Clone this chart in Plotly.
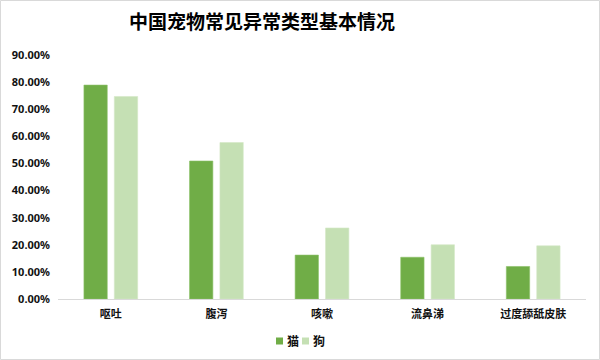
import plotly.graph_objects as go

categories = ["呕吐", "腹泻", "咳嗽", "流鼻涕", "过度舔舐皮肤"]
cat_values = [0.789, 0.509, 0.162, 0.154, 0.120]
dog_values = [0.747, 0.577, 0.262, 0.200, 0.196]
y_ticks = [0, 0.1, 0.2, 0.3, 0.4, 0.5, 0.6, 0.7, 0.8, 0.9]
series_names = ["猫", "狗"]
series_colors = ["#70AD47", "#C5E0B4"]

FONT = "Noto Sans, Noto Sans CJK SC, sans-serif"

fig = go.Figure()
fig.add_trace(go.Bar(name=series_names[0], x=categories, y=cat_values, showlegend=False,
                     marker=dict(color=series_colors[0], line=dict(color="#8cc168", width=0.6))))
fig.add_trace(go.Bar(name=series_names[1], x=categories, y=dog_values, showlegend=False,
                     marker=dict(color=series_colors[1], line=dict(color="#d3e8c6", width=0.6))))

L, R, T, B = 58, 14, 55, 61
W, H = 600, 360
pw, ph = W - L - R, H - T - B

def px_x(x):
    return (x - L) / pw

def px_y(y):
    return (H - B - y) / ph

shapes = [dict(type="rect", xref="paper", yref="paper",
               x0=px_x(0.5), x1=px_x(W - 0.5), y0=px_y(H - 0.5), y1=px_y(0.5),
               line=dict(color="#d9d9d9", width=1), layer="below")]
annotations = []
leg_x = [276, 302]
for name, col, lx in zip(series_names, series_colors, leg_x):
    shapes.append(dict(type="rect", xref="paper", yref="paper",
                       x0=px_x(lx), x1=px_x(lx + 7), y0=px_y(344.5), y1=px_y(337.5),
                       fillcolor=col, line=dict(width=0)))
    annotations.append(dict(text=name, xref="paper", yref="paper", x=px_x(lx + 9), y=px_y(341),
                            xanchor="left", yanchor="middle", showarrow=False,
                            font=dict(family=FONT, size=12, color="#111111", weight="bold")))

fig.update_layout(
    width=W, height=H,
    margin=dict(l=L, r=R, t=T, b=B),
    paper_bgcolor="white", plot_bgcolor="white",
    barmode="group", bargap=0.424, bargroupgap=0.233,
    title=dict(text="<b>中国宠物常见异常类型基本情况</b>", x=262/600, xref="container",
               y=1-22/360, yref="container", xanchor="center", yanchor="middle",
               font=dict(family="Noto Sans CJK SC, sans-serif", size=19, color="#000000")),
    font=dict(family=FONT, size=11, color="#222222"),
    showlegend=False,
    xaxis=dict(showline=True, linecolor="#d9d9d9", linewidth=1, ticks="", automargin=False,
               ticklabelstandoff=5,
               tickfont=dict(family=FONT, size=11, color="#111111", weight="bold")),
    yaxis=dict(range=[0, 0.9], tickvals=y_ticks, tickformat=".2%", showgrid=False,
               zeroline=False, showline=False, ticks="", ticklabelstandoff=7, automargin=False,
               tickfont=dict(family=FONT, size=11, color="#111111", weight="bold")),
    shapes=shapes,
    annotations=annotations,
)

fig.write_html("out.html", config={"displayModeBar": False},
               post_script="document.body.style.margin='0';document.body.style.padding='0';")
